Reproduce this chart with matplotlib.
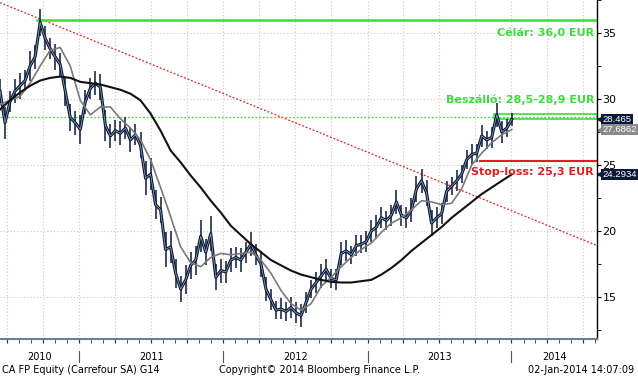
import numpy as np
import pandas as pd
import matplotlib
matplotlib.use("Agg")
import matplotlib.pyplot as plt
import matplotlib.dates as mdates
import matplotlib.transforms as mtransforms

# Carrefour (CA FP) price, every half month
price = [30.6, 28.2, 29.8, 30.6, 31.0, 31.4, 32.5, 33.2, 35.8, 34.6,
         33.8, 33.2, 32.6, 30.6, 28.6, 28.2, 27.7, 29.8, 30.8, 31.2,
         30.9, 28.0, 27.2, 27.6, 27.4, 27.8, 26.9, 27.3, 26.5, 24.0,
         24.3, 22.0, 21.6, 18.6, 18.8, 16.8, 15.6, 16.3, 17.4, 17.8,
         19.6, 18.4, 19.8, 16.5, 17.0, 16.9, 17.8, 18.0, 17.8, 18.4,
         19.0, 18.2, 17.5, 15.6, 14.8, 14.0, 14.1, 13.9, 14.2, 13.8,
         13.6, 14.6, 15.6, 16.1, 16.6, 17.1, 16.4, 16.3, 18.3, 18.5,
         18.2, 18.9, 19.0, 19.2, 20.0, 20.3, 21.0, 20.8, 21.2, 22.2,
         21.2, 21.0, 21.6, 23.2, 23.8, 22.9, 20.6, 21.0, 21.3, 23.0,
         23.4, 23.8, 24.3, 25.4, 25.8, 25.9, 27.2, 26.9, 27.1, 28.8,
         27.5, 27.8, 28.465]

# half of the daily high-low spread around each reading
spread = [0.9, 1.2, 0.8, 0.9, 1.0, 0.8, 1.1, 0.9, 1.0, 0.9,
          0.8, 1.0, 0.9, 1.1, 1.0, 0.9, 1.1, 0.9, 0.8, 0.9,
          1.0, 1.2, 0.9, 0.8, 0.9, 0.8, 0.9, 0.8, 1.0, 1.3,
          1.2, 1.1, 1.0, 1.3, 1.2, 1.1, 1.0, 1.1, 1.0, 1.1,
          1.2, 1.0, 1.3, 1.0, 0.9, 0.8, 0.9, 0.8, 0.9, 0.8,
          0.9, 0.8, 1.0, 0.9, 0.8, 0.7, 0.8, 0.7, 0.8, 0.8,
          0.9, 0.8, 0.7, 0.8, 0.9, 0.8, 0.7, 0.8, 0.9, 0.8,
          0.7, 0.8, 0.7, 0.8, 0.8, 0.9, 0.8, 0.7, 0.8, 0.9,
          0.8, 0.8, 0.9, 1.0, 0.9, 1.0, 1.0, 0.8, 0.8, 0.8,
          0.7, 0.8, 0.7, 0.7, 0.8, 0.7, 0.8, 0.7, 0.8, 0.9,
          0.8, 0.7, 0.5]

# short moving average (grey) and long moving average (black)
ma_short = [29.6, 29.9, 30.2, 31.2, 32.5, 33.7, 33.9, 32.5, 29.9, 28.8,
            29.4, 29.4, 28.5, 27.8, 26.9, 25.4, 23.3, 21.1, 18.8, 17.6,
            17.3, 18.0, 18.3, 18.2, 18.3, 18.4, 17.8, 16.8, 15.5, 14.5,
            14.0, 14.5, 15.8, 16.5, 17.3, 18.0, 18.6, 19.1, 19.9, 20.6,
            21.0, 21.6, 22.3, 22.2, 22.0, 22.1, 23.2, 25.0, 25.9, 26.7,
            27.3, 27.6862]
ma_long = [29.2, 29.9, 30.5, 31.0, 31.4, 31.6, 31.7, 31.6, 31.3, 31.2,
           31.1, 30.9, 30.7, 30.4, 29.9, 28.9, 27.6, 26.1, 25.2, 24.2,
           23.3, 22.3, 21.4, 20.4, 19.7, 19.0, 18.4, 17.8, 17.4, 17.0,
           16.7, 16.5, 16.3, 16.15, 16.1, 16.1, 16.2, 16.3, 16.7, 17.2,
           17.8, 18.5, 19.1, 19.7, 20.3, 21.0, 21.6, 22.2, 22.8, 23.3,
           23.8, 24.2934]

start, end = "2010-06-14", "2014-01-02"
view_end = "2014-08-06"
peak_date = "2010-09-17"
entry_start = "2013-11-18"
stop_start = "2013-10-14"

target, entry_lo, entry_hi, entry_line, stop = 36.0, 28.5, 28.9, 28.6, 25.3
trend = [37.3, 18.9]  # resistance line values at chart start / right edge

years = [2010, 2011, 2012, 2013, 2014]

d_price = pd.date_range(start, end, periods=len(price))
d_ma = pd.date_range(start, end, periods=len(ma_short))
p = np.array(price)
sp = np.array(spread)

navy = "#0b1a38"
green = "#3ddc3d"
red = "#e02020"

fig = plt.figure(figsize=(6.38, 3.76), dpi=100)
ax = fig.add_axes([0.0, 37 / 376, 597 / 638, 339 / 376])

x0, x1 = pd.Timestamp(start), pd.Timestamp(view_end)
ax.set_xlim(x0, x1)
ax.set_ylim(11.82, 37.5)

# grid
ax.set_yticks([15, 20, 25, 30, 35])
ax.set_yticks(np.arange(12.5, 37.6, 2.5), minor=True)
ax.xaxis.set_major_locator(mdates.MonthLocator(bymonth=[1, 4, 7, 10]))
ax.xaxis.set_minor_locator(mdates.MonthLocator())
ax.grid(True, which="major", color="#c8c8c8", linestyle=(0, (1, 2)), linewidth=0.8)

# trend line and target levels
ax.plot([x0, x1], trend, color=red, linestyle=(0, (1.5, 1.5)), linewidth=0.9)
ax.plot([pd.Timestamp(peak_date), x1], [target, target], color=green, linewidth=1.8)
ax.axhline(entry_line, color=green, linestyle=(0, (1.5, 1.5)), linewidth=0.9)
ax.fill_between([pd.Timestamp(entry_start), x1], entry_lo, entry_hi,
                facecolor="none", edgecolor=green, linewidth=1.2)
ax.plot([pd.Timestamp(stop_start), x1], [stop, stop], color=red, linewidth=1.5)

# price (high-low bars + close) and averages
ax.vlines(d_price, p - sp, p + sp, color=navy, linewidth=1.1)
ax.plot(d_price, price, color=navy, linewidth=2.2)
ax.plot(d_price, price, color="#9cb0c8", linewidth=0.5)
ax.plot(d_ma, ma_short, color="#7a7a7a", linewidth=1.2)
ax.plot(d_ma, ma_long, color="#111111", linewidth=1.5)

ax.text(0.995, 35.0, "Célár: 36,0 EUR", transform=ax.get_yaxis_transform(),
        ha="right", va="center", color=green, fontsize=8, fontweight="bold")
ax.text(0.995, 29.95, "Beszálló: 28,5-28,9 EUR", transform=ax.get_yaxis_transform(),
        ha="right", va="center", color=green, fontsize=8, fontweight="bold")
ax.text(0.995, 24.45, "Stop-loss: 25,3 EUR", transform=ax.get_yaxis_transform(),
        ha="right", va="center", color=red, fontsize=8, fontweight="bold")

# axes styling
for s in ["left", "top"]:
    ax.spines[s].set_visible(False)
ax.spines["right"].set_color("black")
ax.spines["right"].set_linewidth(1.0)
ax.spines["bottom"].set_color("#6f7f90")
ax.spines["bottom"].set_linewidth(1.5)
ax.yaxis.tick_right()
ax.tick_params(axis="y", which="both", direction="out", length=3, color="black",
               labelsize=8, pad=1)
ax.tick_params(axis="x", which="both", direction="out", length=3, color="#333333",
               labelbottom=False)

# last value tags on the right axis
tags = [(price[-1], "28.465", navy), (ma_short[-1], "27.6862", "#8a8a8a"),
        (ma_long[-1], "24.2934", navy)]
ytr = ax.get_yaxis_transform()
for val, lab, col in tags:
    ax.plot([1.006], [val], marker="<", markersize=6, color=col,
            transform=ytr, clip_on=False)
    ax.text(1.009, val, lab, transform=ytr, ha="left", va="center",
            color="white", fontsize=6.8, family="Liberation Sans", clip_on=False,
            bbox=dict(boxstyle="square,pad=0.12", facecolor=col, edgecolor="none"))

# year labels with separators
lab_trans = mtransforms.blended_transform_factory(ax.transData, fig.transFigure)
xl = mdates.date2num([x0, x1])
for y in years:
    a = max(mdates.date2num(pd.Timestamp(f"{y}-01-01")), xl[0])
    b = min(mdates.date2num(pd.Timestamp(f"{y + 1}-01-01")), xl[1])
    fig.text((a + b) / 2, 19 / 376, str(y), transform=lab_trans,
             ha="center", va="center", fontsize=7)
    if y > years[0]:
        ax.plot([a, a], [14 / 376, 25 / 376], transform=lab_trans,
                color="#555555", linewidth=0.8, clip_on=False)

fig.text(2 / 638, 6 / 376, "CA FP Equity (Carrefour SA) G14", ha="left", va="center", fontsize=7)
fig.text(320 / 638, 6 / 376, "Copyright© 2014 Bloomberg Finance L.P.", ha="center", va="center", fontsize=7)
fig.text(634 / 638, 6 / 376, "02-Jan-2014 14:07:09", ha="right", va="center", fontsize=7)

fig.savefig("out.png", dpi=100)
